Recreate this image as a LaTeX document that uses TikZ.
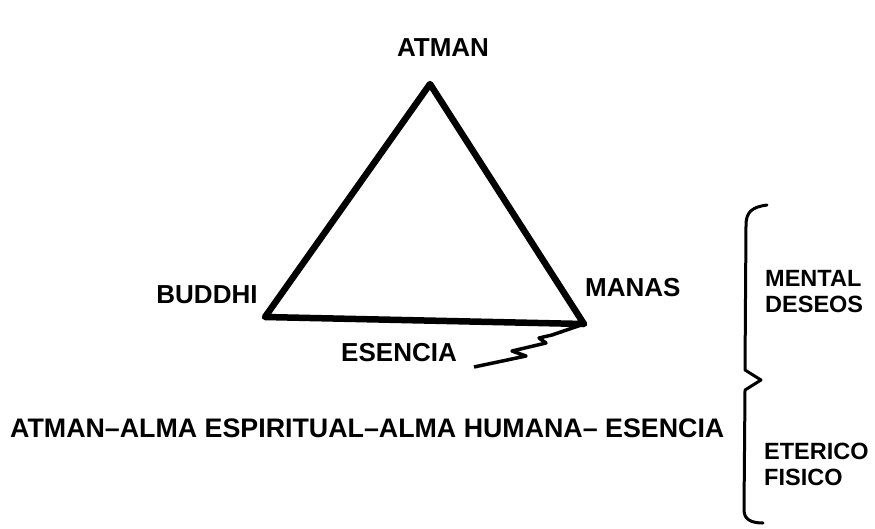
\documentclass[tikz,border=0pt]{standalone}
\usepackage{fontspec}
\setmainfont{Liberation Sans}
\begin{document}
\begin{tikzpicture}[
        x=1pt, y=-1pt,
        lbl/.style={font=\bfseries\fontsize{26}{26}\selectfont, inner sep=0pt},
        side/.style={lbl, font=\bfseries\fontsize{23.5}{26}\selectfont, anchor=west, align=left},
        thick line/.style={line width=6.5pt, line join=round, line cap=round},
    ]
    \useasboundingbox (0,0) rectangle (875,528);

    % triangle corners
    \coordinate (atman) at (430,84);
    \coordinate (buddhi) at (265,317);
    \coordinate (manas) at (584,324);
    \draw[thick line] (atman) -- (buddhi) -- (manas) -- cycle;

    % labels of the corners
    \node[lbl] (atmanlbl) at (443,48) {ATMAN};
    \node[lbl] (buddhilbl) at (207,295) {BUDDHI};
    \node[lbl, anchor=west] (manaslbl) at (585,288) {MANAS};
    \node[lbl, anchor=east] (esencialbl) at (457,353) {ESENCIA};

    % spark below the base
    \coordinate (spark) at (474,367);
    \draw[line width=3.5pt, line join=round] (manas) -- (552,335) -- (539,338)
        -- (546,343) -- (512,351) -- (526,356) -- (spark);

    % chain of names
    \node[lbl, anchor=west, font=\bfseries\fontsize{26.8}{26}\selectfont] (chain) at (10,428)
        {ATMAN--ALMA ESPIRITUAL--ALMA HUMANA-- ESENCIA};

    % brace on the right
    \coordinate (bracetop) at (767,205);
    \coordinate (bracemid) at (761,380);
    \coordinate (bracebot) at (763,523);
    \draw[line width=3pt, line join=round, line cap=round] (bracetop)
        .. controls (752,207) and (746,212) .. (746,225) -- (745,370)
        -- (bracemid) -- (745,390) -- (744,510)
        .. controls (744,520) and (752,523) .. (bracebot);

    \node[side] (mental) at (765,292) {MENTAL\\DESEOS};
    \node[side] (eterico) at (764,464) {ETERICO\\FISICO};
\end{tikzpicture}
\end{document}
